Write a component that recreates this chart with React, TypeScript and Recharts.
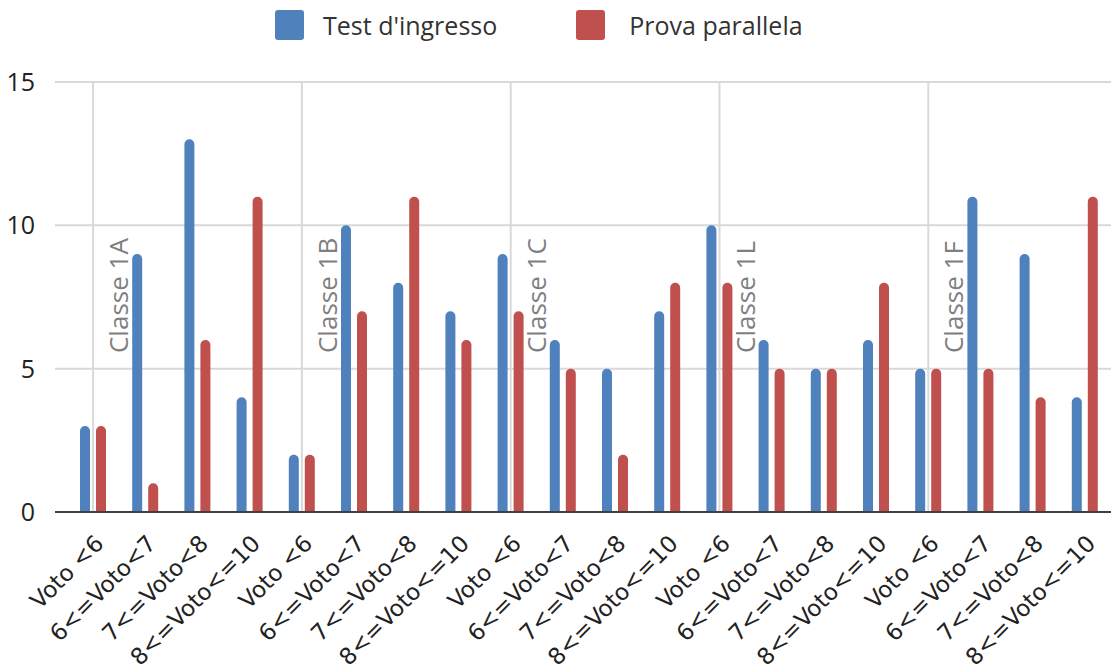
import { Bar, BarChart, CartesianGrid, Legend, ReferenceLine, XAxis, YAxis } from "recharts";

const categories = ["Voto <6", "6<=Voto<7", "7<=Voto<8", "8<=Voto<=10"];
const classes = ["Classe 1A", "Classe 1B", "Classe 1C", "Classe 1L", "Classe 1F"];
const testIngresso = [3, 9, 13, 4, 2, 10, 8, 7, 9, 6, 5, 7, 10, 6, 5, 6, 5, 11, 9, 4];
const provaParallela = [3, 1, 6, 11, 2, 7, 11, 6, 7, 5, 2, 8, 8, 5, 5, 8, 5, 5, 4, 11];
const yTicks = [0, 5, 10, 15];

const BLUE = "#4F81BD";
const RED = "#C0504D";
const FONT = "'Open Sans', 'DejaVu Sans', sans-serif";

const data = testIngresso.map((v, i) => ({
  key: classes[Math.floor(i / categories.length)] + "|" + categories[i % categories.length],
  test: v,
  prova: provaParallela[i],
}));

const XTick = ({ x, y, payload }: any) => {
  const label = String(payload.value).split("|")[1];
  const tx = x + 12;
  const ty = y + 25;
  return (
    <text
      x={tx}
      y={ty}
      transform={`rotate(-45 ${tx} ${ty})`}
      textAnchor="end"
      fontSize={23}
      fontFamily="'DejaVu Sans', sans-serif"
      fill="#222"
    >
      {label}
    </text>
  );
};

const ClassLabel = ({ viewBox, text }: any) => {
  const bottom = Math.max(viewBox.y, viewBox.y + viewBox.height);
  const cx = viewBox.x + 35;
  const cy = bottom - 159;
  return (
    <text
      x={cx}
      y={cy}
      transform={`rotate(-90 ${cx} ${cy})`}
      fontSize={26}
      fontFamily={FONT}
      fill="#7f7f7f"
      stroke="#fff"
      strokeWidth={3}
      paintOrder="stroke"
    >
      {text}
    </text>
  );
};

const LegendContent = () => (
  <div style={{ display: "flex", alignItems: "center", fontFamily: FONT, fontSize: 25, color: "#333" }}>
    {[
      { name: "Test d'ingresso", color: BLUE },
      { name: "Prova parallela", color: RED },
    ].map((it, i) => (
      <div key={it.name} style={{ display: "flex", alignItems: "center", marginRight: 79 }}>
        <span style={{ width: 29, height: 30, background: it.color, borderRadius: 3, marginRight: i === 0 ? 19 : 24 }} />
        <span>{it.name}</span>
      </div>
    ))}
  </div>
);

export default function App() {
  return (
    <div style={{ width: 1113, height: 672, background: "#fff" }}>
      <style>{`body{margin:0}`}</style>
      <BarChart
        width={1113}
        height={672}
        data={data}
        margin={{ top: 82, right: 2, bottom: 0, left: 0 }}
        barCategoryGap="25%"
        barGap={6}
      >
        <CartesianGrid vertical={false} stroke="#d9d9d9" strokeWidth={2} />
        <XAxis
          dataKey="key"
          interval={0}
          tick={<XTick />}
          tickLine={false}
          axisLine={{ stroke: "#404040", strokeWidth: 2 }}
          padding={{ left: 12, right: 0 }}
          height={160}
        />
        <YAxis
          domain={[0, 15]}
          ticks={yTicks}
          width={55}
          axisLine={false}
          tickLine={false}
          tickSize={0}
          tickMargin={20}
          tick={{ fontSize: 25, fontFamily: FONT, fill: "#222" }}
        />
        <Legend
          verticalAlign="middle"
          content={<LegendContent />}
          wrapperStyle={{ top: 8, left: 275, width: 700 }}
        />
        <Bar dataKey="test" name="Test d'ingresso" fill={BLUE} barSize={10} radius={[5, 5, 0, 0]} isAnimationActive={false} />
        <Bar dataKey="prova" name="Prova parallela" fill={RED} barSize={10} radius={[5, 5, 0, 0]} isAnimationActive={false} />
        {classes.map((cls, i) => (
          <ReferenceLine
            key={cls}
            x={data[i * categories.length].key}
            stroke="#d9d9d9"
            strokeWidth={2}
            label={(p: any) => <ClassLabel {...p} text={cls} />}
          />
        ))}
      </BarChart>
    </div>
  );
}
